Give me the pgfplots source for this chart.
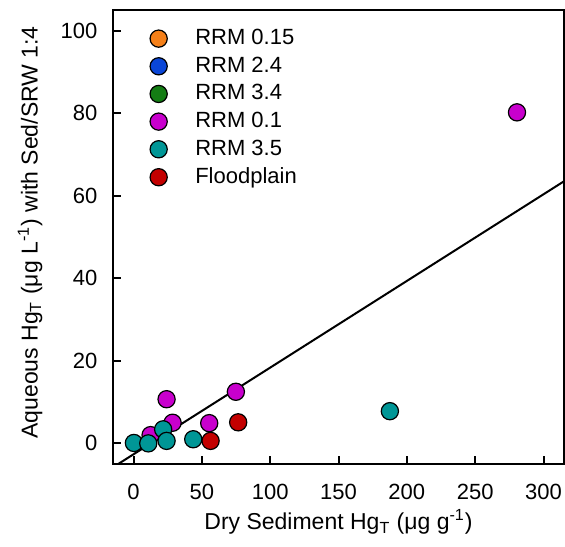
\documentclass[border=0pt]{standalone}
\usepackage{fontspec}
\setmainfont{Liberation Sans}
\usepackage{pgfplots}
\pgfplotsset{compat=1.18}
\definecolor{cOrange}{RGB}{245,128,25}
\definecolor{cBlue}{RGB}{10,70,215}
\definecolor{cGreen}{RGB}{20,125,20}
\definecolor{cMagenta}{RGB}{200,0,205}
\definecolor{cTeal}{RGB}{0,150,150}
\definecolor{cRed}{RGB}{195,0,0}
\pgfplotsset{
  dot/.style={only marks, mark=*, mark size=4.3pt,
    mark options={draw=black, line width=0.6pt, fill=#1}},
}
\begin{document}
\fontsize{11}{13}\selectfont
\begin{tikzpicture}
\useasboundingbox (-56.5pt,-41pt) rectangle (226pt,232pt);
\begin{axis}[
  scale only axis, width=225.5pt, height=227pt,
  xmin=-15, xmax=315, ymin=-5, ymax=105,
  xtick={0,50,...,300}, ytick={0,20,...,100},
  tick align=inside, tick pos=left,
  major tick length=4pt,
  axis line style={line width=1pt}, tick style={line width=1pt, black},
  /pgf/number format/assume math mode=true,
  tick label style={font=\fontsize{11}{13}\selectfont},
  xticklabel style={yshift=-6pt},
  yticklabel style={xshift=-4pt},
  label style={font=\fontsize{11.5}{13}\selectfont},
  xlabel={Dry Sediment Hg\textsubscript{T} (μg g\textsuperscript{-1})},
  ylabel={Aqueous Hg\textsubscript{T} (μg L\textsuperscript{-1}) with Sed/SRW 1:4},
  xlabel style={at={(axis description cs:0.5,-0.128)}, anchor=center},
  ylabel style={at={(axis description cs:-0.184,0.51)}, anchor=center},
  legend cell align=left,
  legend style={draw=none, fill=none, at={(axis description cs:0.068,0.976)},
    anchor=north west, row sep=0.5pt, column sep=12pt,
    font=\fontsize{11}{13}\selectfont},
  legend image code/.code={\draw[#1] plot coordinates {(0.3cm,0cm)};},
]
\addlegendimage{dot=cOrange}
\addlegendentry{RRM 0.15}
\addlegendimage{dot=cBlue}
\addlegendentry{RRM 2.4}
\addlegendimage{dot=cGreen}
\addlegendentry{RRM 3.4}
\addplot[dot=cMagenta] coordinates {
  (280.6,80.2) (24.2,10.7) (74.9,12.5) (28.6,5.0) (55.4,4.9) (12.5,2.0)
};
\addlegendentry{RRM 0.1}
\addplot[dot=cTeal] coordinates {
  (0.3,0.1) (10.8,0.0) (21.7,3.4) (24.2,0.6) (43.7,1.0) (187.6,7.8)
};
\addlegendentry{RRM 3.5}
\addplot[dot=cRed] coordinates {
  (76.6,5.1) (56.4,0.6)
};
\addlegendentry{Floodplain}
\addplot[black, line width=1pt, forget plot] coordinates {(-11.2,-5) (315,63.5)};
\end{axis}
\end{tikzpicture}
\end{document}
